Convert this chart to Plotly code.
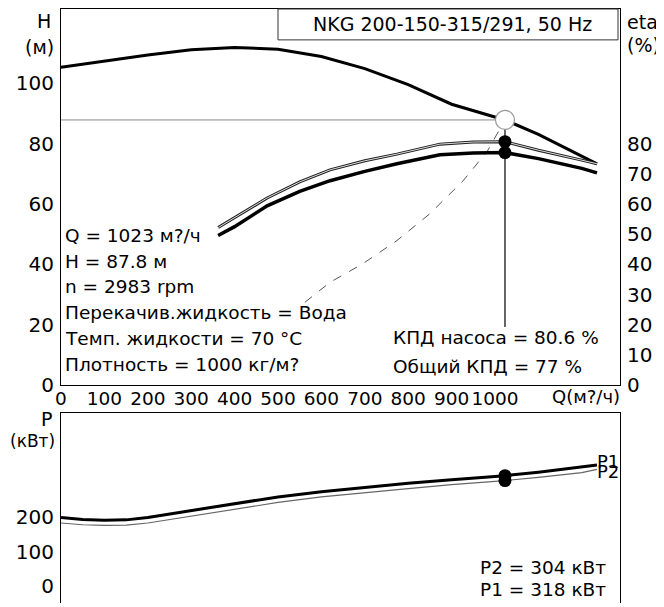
import plotly.graph_objects as go

# ---------------- data ----------------
Q_H = [0, 100, 200, 300, 400, 500, 600, 700, 800, 900, 1000, 1023, 1100, 1200, 1235]
H = [105.2, 107.2, 109.3, 111.0, 111.8, 111.2, 108.8, 104.8, 99.5, 93.0, 88.8, 87.8, 83.0, 76.0, 73.3]

Q_eta = [362, 400, 475, 550, 620, 700, 774, 873, 950, 1023, 1100, 1200, 1235]
eta_pump = [52.2, 55.5, 62.0, 67.3, 71.3, 74.3, 76.5, 79.8, 80.5, 80.6, 77.8, 74.5, 73.3]
eta_total = [49.6, 52.5, 59.4, 64.2, 67.7, 70.8, 73.3, 76.3, 76.9, 77.0, 75.0, 71.8, 70.3]

Q_sys = [562, 620, 696, 774, 850, 926, 982, 1023]
H_sys = [27.5, 34.1, 40.3, 47.9, 56.8, 67.6, 77.4, 87.8]

Q_P = [0, 50, 100, 150, 200, 300, 400, 500, 600, 700, 800, 900, 1000, 1023, 1100, 1200, 1235]
P1 = [198, 192, 190, 191, 198, 217, 238, 257, 272, 285, 296, 306, 315, 318, 328, 342, 349]
P2 = [182, 177, 175, 176, 182, 201, 222, 241, 257, 270, 281, 292, 301, 304, 313, 327, 336]

Q_duty = 1023
H_duty = 87.8
eta_pump_duty = 80.6
eta_total_duty = 77
P1_duty = 318
P2_duty = 304
vline_low = 19.3

x_ticks = [0, 100, 200, 300, 400, 500, 600, 700, 800, 900, 1000]
H_ticks = [0, 20, 40, 60, 80, 100]
eta_ticks = [0, 10, 20, 30, 40, 50, 60, 70, 80]
P_ticks = [0, 100, 200]

title_text = "NKG 200-150-315/291, 50 Hz"
info_lines = ["Q = 1023 м?/ч", "H = 87.8 м", "n = 2983 rpm",
              "Перекачив.жидкость = Вода", "Темп. жидкости = 70 °C",
              "Плотность = 1000 кг/м?"]
eff_lines = ["КПД насоса = 80.6 %", "Общий КПД = 77 %"]
power_lines = ["P2 = 304 кВт", "P1 = 318 кВт"]

# ---------------- figure ----------------
W, HGT = 664, 607
OFF = 8                      # page body margin of the html page
ML, MR, MT, MB = 61 - OFF, W - (620 - OFF), 1, 0
PW, PH = W - ML - MR, HGT - MT - MB
FONT = "DejaVu Sans"


def px(x, y):
    """window pixel position -> paper coordinates"""
    fx, fy = x - OFF, y - OFF
    return (fx - ML) / PW, (HGT - MB - fy) / PH


X_RANGE = [0, 1288]
Y_TOP_RANGE = [0, 124.5]
Y_BOT_RANGE = [-47.9, 499.4]

fig = go.Figure()

# operating point helper lines
fig.add_trace(go.Scatter(x=[0, Q_duty], y=[H_duty, H_duty], mode="lines",
                         line=dict(color="#8a8a8a", width=1), xaxis="x", yaxis="y"))
fig.add_trace(go.Scatter(x=Q_sys, y=H_sys, mode="lines",
                         line=dict(color="#555555", width=1, dash="dash"), xaxis="x", yaxis="y"))
fig.add_trace(go.Scatter(x=[Q_duty, Q_duty], y=[H_duty, vline_low], mode="lines",
                         line=dict(color="black", width=1.2), xaxis="x", yaxis="y"))

# efficiency curves
fig.add_trace(go.Scatter(x=Q_eta, y=eta_pump, mode="lines",
                         line=dict(color="#222222", width=3), xaxis="x", yaxis="y2"))
fig.add_trace(go.Scatter(x=Q_eta, y=eta_pump, mode="lines",
                         line=dict(color="#dddddd", width=1), xaxis="x", yaxis="y2"))
fig.add_trace(go.Scatter(x=Q_eta, y=eta_total, mode="lines",
                         line=dict(color="black", width=3.5), xaxis="x", yaxis="y2"))

# head curve
fig.add_trace(go.Scatter(x=Q_H, y=H, mode="lines",
                         line=dict(color="black", width=3), xaxis="x", yaxis="y"))

# markers
fig.add_trace(go.Scatter(x=[Q_duty], y=[H_duty], mode="markers",
                         marker=dict(size=19, color="white", line=dict(color="#999999", width=1.2)),
                         xaxis="x", yaxis="y"))
fig.add_trace(go.Scatter(x=[Q_duty, Q_duty], y=[eta_pump_duty, eta_total_duty], mode="markers",
                         marker=dict(size=13, color="black"), xaxis="x", yaxis="y2"))

# power curves
fig.add_trace(go.Scatter(x=Q_P, y=P2, mode="lines",
                         line=dict(color="#666666", width=1.2), xaxis="x2", yaxis="y3"))
fig.add_trace(go.Scatter(x=Q_P, y=P1, mode="lines",
                         line=dict(color="black", width=3), xaxis="x2", yaxis="y3"))
fig.add_trace(go.Scatter(x=[Q_duty, Q_duty], y=[P1_duty, P2_duty], mode="markers",
                         marker=dict(size=13, color="black"), xaxis="x2", yaxis="y3"))

annotations = []


def ann(text, X, Y, xanchor="left", size=19):
    ax, ay = px(X, Y)
    annotations.append(dict(text=text, x=ax, y=ay, xref="paper", yref="paper",
                            xanchor=xanchor, yanchor="middle", showarrow=False,
                            font=dict(family=FONT, size=size, color="black")))


ann(title_text, 452, 24, "center", 19)
ann("H", 53, 21, "right")
ann("(м)", 56, 48, "right")
ann("eta", 625, 22, "left")
ann("(%)", 625, 46, "left")
ann("Q(м?/ч)", 622, 404, "right", 18)
ann("P", 54, 427, "right")
ann("(кВт)", 57, 450, "right", 17)

for i, t in enumerate(info_lines):
    ann(t, 63, 240 + i * 26.3, size=18.5)
for i, t in enumerate(eff_lines):
    ann(t, 391, 344 + i * 30, size=18.5)
for i, t in enumerate(power_lines):
    ann(t, 608, 579 + i * 22, "right", size=18.5)

# curve end labels
for lbl, val, dy in (("P1", P1[-1], -3), ("P2", P2[-1], 2)):
    annotations.append(dict(text=lbl, x=Q_P[-1], y=val, xref="x2", yref="y3",
                            xanchor="left", yanchor="middle", showarrow=False, xshift=-2, yshift=-dy,
                            font=dict(family=FONT, size=18, color="black")))

bx0, by0 = px(278, 9)
bx1, by1 = px(618, 40.5)
shapes = [dict(type="rect", xref="paper", yref="paper", x0=bx0, y0=by1, x1=bx1, y1=by0,
               line=dict(color="#333333", width=1), fillcolor="rgba(0,0,0,0)")]

top_dom = [px(0, 393)[1], 1]
bot_dom = [0, px(0, 420.7)[1]]

axis_common = dict(showgrid=False, zeroline=False, ticks="", linecolor="black", linewidth=1)

fig.update_layout(
    width=W, height=HGT, autosize=False,
    margin=dict(l=ML, r=MR, t=MT, b=MB),
    paper_bgcolor="white", plot_bgcolor="white",
    showlegend=False,
    font=dict(family=FONT, size=19, color="black"),
    xaxis=dict(domain=[0, 1], range=X_RANGE, anchor="y", showline=True, mirror=True,
               tickvals=x_ticks, tickfont=dict(size=18.5), ticklabelstandoff=-4, **axis_common),
    yaxis=dict(domain=top_dom, range=Y_TOP_RANGE, anchor="x", showline=True, mirror=True,
               tickvals=H_ticks, tickfont=dict(size=20), ticklabelstandoff=2, **axis_common),
    yaxis2=dict(range=Y_TOP_RANGE, overlaying="y", side="right", anchor="x", showline=False,
                tickvals=eta_ticks, tickfont=dict(size=20), ticklabelstandoff=6, **axis_common),
    xaxis2=dict(domain=[0, 1], range=X_RANGE, anchor="y3", side="top", showline=True,
                showticklabels=False, **axis_common),
    yaxis3=dict(domain=bot_dom, range=Y_BOT_RANGE, anchor="x2", showline=True, mirror=True,
                tickvals=P_ticks, tickfont=dict(size=20), ticklabelstandoff=2, **axis_common),
    annotations=annotations,
    shapes=shapes,
)

fig.write_html("out.html")
